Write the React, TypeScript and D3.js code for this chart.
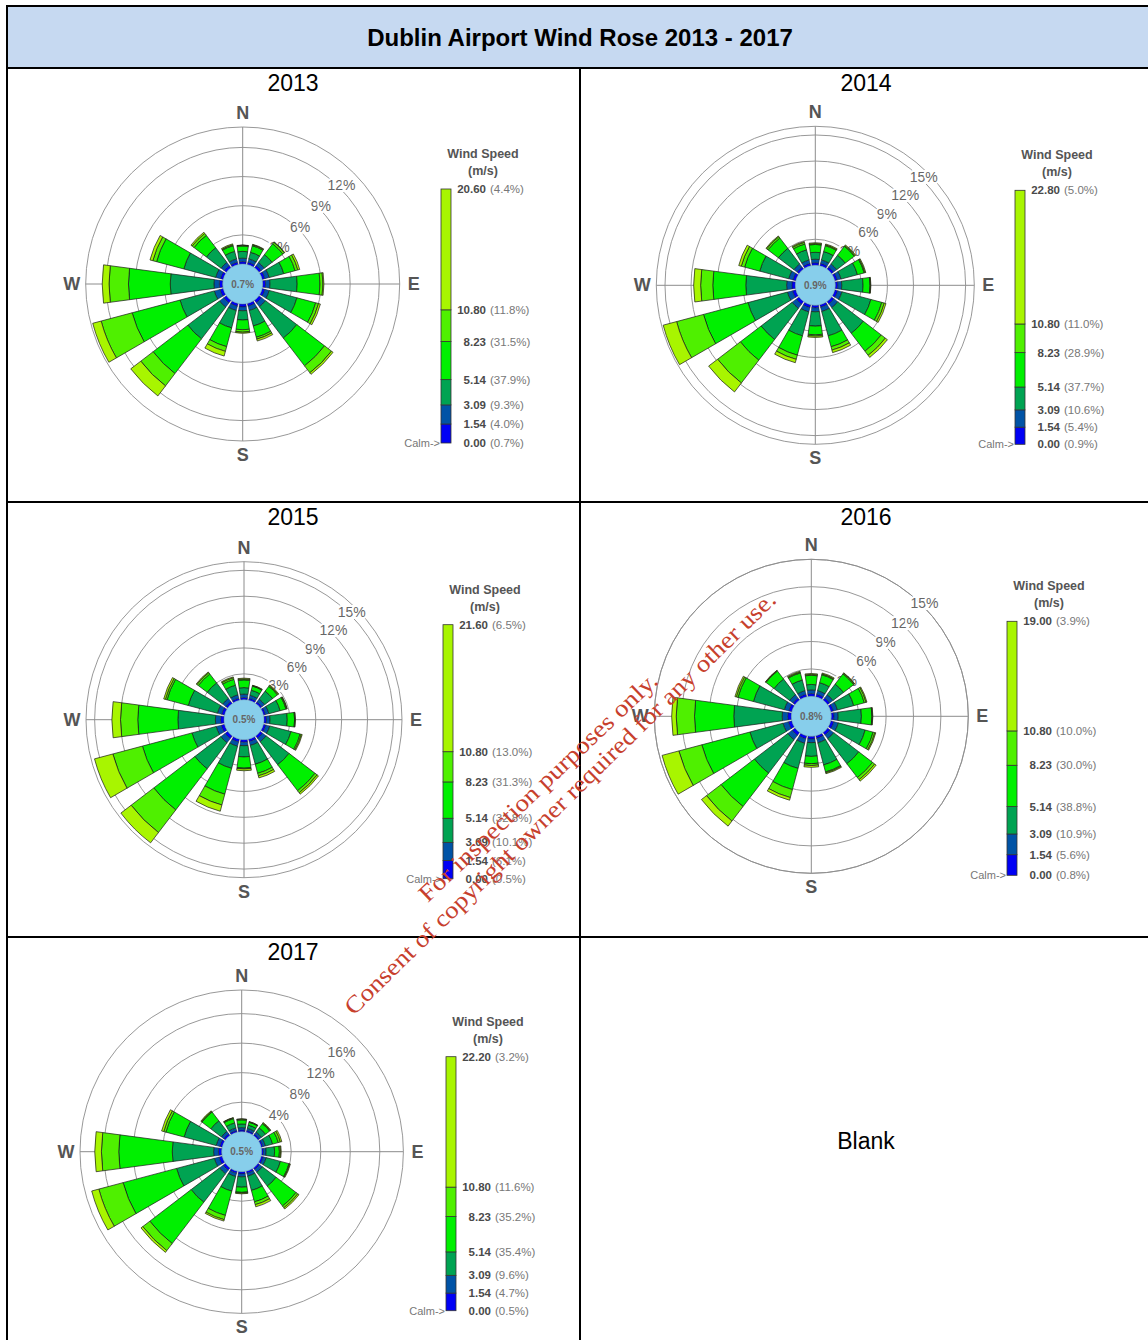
import React from 'react';
import * as d3 from 'd3';

// ---- data ----
const title = 'Dublin Airport Wind Rose 2013 - 2017';
const years = ['2013', '2014', '2015', '2016', '2017'];
const directions = ['N', 'NNE', 'NE', 'ENE', 'E', 'ESE', 'SE', 'SSE', 'S', 'SSW', 'SW', 'WSW', 'W', 'WNW', 'NW', 'NNW'];
const binKeys = ['b0', 'b1', 'b2', 'b3', 'b4', 'b5'];
const speedBreaks = [0, 1.54, 3.09, 5.14, 8.23, 10.8];

// frequency (%) per direction, per speed class [0-1.54, 1.54-3.09, 3.09-5.14, 5.14-8.23, 8.23-10.80, >10.80]
const freq2013 = [
  [0.25, 0.35, 0.7, 0.55, 0.08, 0.02], [0.25, 0.35, 0.7, 0.7, 0.1, 0.05], [0.3, 0.4, 1.0, 1.4, 0.2, 0.05], [0.3, 0.45, 1.55, 1.2, 0.3, 0.2],
  [0.3, 0.45, 2.8, 2.35, 0.3, 0.1], [0.3, 0.45, 2.95, 2.0, 0.3, 0.2], [0.35, 0.5, 4.05, 3.6, 0.9, 0.2], [0.3, 0.45, 1.65, 1.2, 0.2, 0.2],
  [0.3, 0.4, 0.95, 1.0, 0.25, 0.1], [0.3, 0.45, 1.85, 2.0, 0.5, 0.5], [0.35, 0.55, 4.1, 4.5, 1.6, 1.3], [0.35, 0.6, 3.65, 5.1, 3.3, 0.9],
  [0.35, 0.55, 4.5, 4.3, 2.0, 0.7], [0.3, 0.5, 3.4, 2.9, 0.4, 0.3], [0.3, 0.4, 1.9, 1.6, 0.25, 0.15], [0.25, 0.35, 0.8, 0.6, 0.1, 0.1],
];
const freq2014 = [
  [0.3, 0.4, 0.8, 0.9, 0.1, 0.1], [0.3, 0.4, 1.0, 0.7, 0.1, 0.1], [0.3, 0.45, 1.25, 1.3, 0.1, 0.1], [0.3, 0.45, 1.95, 0.8, 0.1, 0.1],
  [0.3, 0.45, 2.45, 0.8, 0.05, 0.05], [0.35, 0.5, 3.45, 1.3, 0.3, 0.2], [0.35, 0.55, 3.7, 2.6, 0.6, 0.3], [0.3, 0.5, 2.9, 1.3, 0.4, 0.3],
  [0.3, 0.45, 1.65, 1.0, 0.15, 0.15], [0.35, 0.5, 2.85, 2.3, 0.5, 0.4], [0.4, 0.6, 4.5, 3.0, 3.3, 1.3], [0.4, 0.6, 4.7, 5.3, 3.2, 1.6],
  [0.4, 0.6, 4.7, 3.8, 1.4, 0.8], [0.35, 0.5, 3.45, 1.8, 0.4, 0.3], [0.3, 0.45, 2.25, 1.5, 0.2, 0.1], [0.3, 0.4, 1.2, 0.7, 0.2, 0.1],
];
const freq2015 = [
  [0.25, 0.4, 0.75, 0.9, 0.1, 0.1], [0.25, 0.35, 0.6, 0.5, 0.05, 0.05], [0.25, 0.4, 1.15, 0.7, 0.1, 0.1], [0.25, 0.4, 1.35, 0.7, 0.1, 0.05],
  [0.3, 0.4, 2.0, 0.85, 0.05, 0.05], [0.3, 0.45, 2.55, 1.1, 0.15, 0.1], [0.35, 0.5, 3.35, 3.8, 0.3, 0.2], [0.3, 0.45, 2.25, 1.1, 0.3, 0.25],
  [0.3, 0.4, 1.3, 1.3, 0.1, 0.2], [0.35, 0.5, 2.65, 3.1, 1.3, 0.75], [0.4, 0.6, 3.8, 6.0, 3.3, 1.5], [0.4, 0.6, 2.9, 5.95, 3.55, 2.2],
  [0.4, 0.6, 4.35, 4.65, 2.0, 1.0], [0.35, 0.5, 3.5, 2.55, 0.2, 0.2], [0.3, 0.45, 2.25, 1.3, 0.2, 0.1], [0.25, 0.4, 1.15, 0.7, 0.2, 0.1],
];
const freq2016 = [
  [0.3, 0.4, 0.6, 1.0, 0.1, 0.1], [0.3, 0.4, 0.9, 0.9, 0.1, 0.1], [0.3, 0.45, 1.45, 1.4, 0.1, 0.05], [0.3, 0.45, 1.85, 1.2, 0.2, 0.1],
  [0.3, 0.45, 2.55, 1.15, 0.05, 0.05], [0.35, 0.5, 3.05, 0.9, 0.2, 0.1], [0.35, 0.5, 3.45, 1.9, 0.3, 0.2], [0.3, 0.5, 2.5, 0.8, 0.1, 0.1],
  [0.3, 0.4, 1.5, 0.8, 0.2, 0.2], [0.35, 0.5, 2.85, 2.4, 0.9, 0.3], [0.4, 0.6, 4.6, 4.6, 2.0, 0.7], [0.4, 0.6, 3.75, 5.45, 2.6, 1.9],
  [0.4, 0.6, 5.3, 4.3, 2.0, 0.5], [0.35, 0.5, 3.5, 1.75, 0.2, 0.15], [0.3, 0.45, 2.15, 1.1, 0.05, 0.05], [0.3, 0.4, 1.2, 0.8, 0.1, 0.1],
];
const freq2017 = [
  [0.25, 0.3, 0.5, 0.55, 0.1, 0.05], [0.25, 0.3, 0.45, 0.4, 0.05, 0.05], [0.25, 0.35, 0.7, 0.7, 0.1, 0.1], [0.25, 0.35, 1.0, 0.8, 0.3, 0.2],
  [0.25, 0.35, 1.15, 0.65, 0.15, 0.1], [0.3, 0.4, 2.0, 1.2, 0.1, 0.1], [0.3, 0.45, 2.35, 3.4, 0.3, 0.2], [0.3, 0.4, 2.0, 1.6, 0.4, 0.3],
  [0.3, 0.4, 1.4, 0.7, 0.1, 0.1], [0.3, 0.45, 2.05, 3.4, 0.6, 0.2], [0.4, 0.6, 4.85, 7.05, 1.2, 0.3], [0.45, 0.65, 5.3, 7.5, 3.4, 1.0],
  [0.45, 0.65, 5.6, 7.25, 2.35, 0.9], [0.35, 0.5, 4.5, 2.55, 0.3, 0.3], [0.3, 0.4, 1.8, 1.5, 0.1, 0.1], [0.25, 0.35, 0.7, 0.6, 0.1, 0.05],
];
const freqByYear = [freq2013, freq2014, freq2015, freq2016, freq2017];

const calmPct = [0.7, 0.9, 0.5, 0.8, 0.5];
const axisMax = [14.1, 16, 16, 15, 19.2];
const ringTicks = [[3, 6, 9, 12], [3, 6, 9, 12, 15], [3, 6, 9, 12, 15], [3, 6, 9, 12, 15], [4, 8, 12, 16]];
const maxSpeed = [20.6, 22.8, 21.6, 19.0, 22.2];
// legend percentages, bottom (calm) to top
const legendPct = [
  [0.7, 4.0, 9.3, 37.9, 31.5, 11.8, 4.4],
  [0.9, 5.4, 10.6, 37.7, 28.9, 11.0, 5.0],
  [0.5, 6.1, 10.1, 32.8, 31.3, 13.0, 6.5],
  [0.8, 5.6, 10.9, 38.8, 30.0, 10.0, 3.9],
  [0.5, 4.7, 9.6, 35.4, 35.2, 11.6, 3.2],
];

// ---- styles / layout ----
const binColors = ['#0000f5', '#0053a6', '#00a352', '#00f000', '#4ff000', '#a8f500'];
const FONT = 'Liberation Sans, Arial, Helvetica, sans-serif';
const panels = [
  { cx: 242.7, cy: 284, R: 157, legendX: 441, label: [293, 83] },
  { cx: 815.3, cy: 285.3, R: 159, legendX: 1015, label: [866, 83] },
  { cx: 244, cy: 719.7, R: 158, legendX: 443, label: [293, 517] },
  { cx: 811.3, cy: 716.3, R: 157, legendX: 1007, label: [866, 517] },
  { cx: 241.7, cy: 1151.7, R: 161.7, legendX: 446, label: [293, 952] },
];
const R0 = 20;

function barPath(cx: number, cy: number, phi: number, r1: number, r2: number) {
  const th = (7.6 * Math.PI) / 180;
  const half = (r: number) => th + Math.atan(0.6 / r);
  const pt = (r: number, a: number) => `${cx + r * Math.sin(a)},${cy - r * Math.cos(a)}`;
  const h1 = half(r1);
  const h2 = half(r2);
  return `M${pt(r1, phi - h1)}L${pt(r2, phi - h2)}A${r2},${r2} 0 0 1 ${pt(r2, phi + h2)}L${pt(r1, phi + h1)}A${r1},${r1} 0 0 0 ${pt(r1, phi - h1)}Z`;
}

const Rose = ({ i }: { i: number }) => {
  const p = panels[i];
  const r = d3.scaleLinear().domain([0, axisMax[i]]).range([R0, p.R]);
  const rows = freqByYear[i].map((v, k) => {
    const o: any = { dir: directions[k] };
    binKeys.forEach((b, j) => (o[b] = v[j]));
    return o;
  });
  const series = d3.stack().keys(binKeys)(rows);
  const angle = d3.scalePoint().domain(directions).range([0, (2 * Math.PI * 15) / 16]);
  const la = Math.PI / 4;
  const { cx, cy, R } = p;

  // legend
  const lx = p.legendX;
  const ly = d3.scaleLinear().domain([0, maxSpeed[i]]).range([cy + 159, cy - 95]);
  const edges = [...speedBreaks, maxSpeed[i]];
  const grey = '#666';

  return (
    <g>
      {ringTicks[i].map(t => (
        <circle key={t} cx={cx} cy={cy} r={r(t)} fill="none" stroke="#8c8c8c" strokeWidth={0.9} />
      ))}
      <circle cx={cx} cy={cy} r={R} fill="none" stroke="#8c8c8c" strokeWidth={0.9} />
      <line x1={cx} x2={cx} y1={cy - R} y2={cy + R} stroke="#8c8c8c" />
      <line x1={cx - R} x2={cx + R} y1={cy} y2={cy} stroke="#8c8c8c" />
      {ringTicks[i].map(t => (
        <text key={t} x={cx + (r(t) + 3) * Math.sin(la)} y={cy - (r(t) + 3) * Math.cos(la)} textAnchor="middle" dominantBaseline="central"
          fontFamily={FONT} fontSize={14} fill={grey} stroke="#fff" strokeWidth={4} style={{ paintOrder: 'stroke' }}>{t}%</text>
      ))}
      {series.map((s, j) => (
        <g key={j}>
          {s.map((d: any) => (
            <path key={d.data.dir} d={barPath(cx, cy, angle(d.data.dir)!, r(d[0]), r(d[1]))}
              fill={binColors[j]} stroke="#1a1a1a" strokeWidth={j < 2 ? 0.45 : 0.7} strokeLinejoin="round" />
          ))}
        </g>
      ))}
      <circle cx={cx} cy={cy} r={R0} fill="#87ceeb" stroke="#5a8ab8" strokeWidth={0.5} />
      <text x={cx} y={cy} textAnchor="middle" dominantBaseline="central" fontFamily={FONT} fontSize={10} fontWeight="bold" fill="#666">{calmPct[i].toFixed(1)}%</text>
      {[['N', 0, -1], ['E', 1, 0], ['S', 0, 1], ['W', -1, 0]].map(([t, dx, dy]: any) => (
        <text key={t} x={cx + dx * (R + 14)} y={cy + dy * (R + 14)} textAnchor="middle" dominantBaseline="central"
          fontFamily={FONT} fontSize={18} fontWeight="bold" fill="#555">{t}</text>
      ))}
      {/* year label */}
      <text x={p.label[0]} y={p.label[1]} textAnchor="middle" dominantBaseline="central" fontFamily={FONT} fontSize={23} fill="#000">{years[i]}</text>
      {/* legend */}
      <text x={lx + 42} y={cy - 126} textAnchor="middle" fontFamily={FONT} fontSize={12.5} fontWeight="bold" fill="#555">Wind Speed</text>
      <text x={lx + 42} y={cy - 109} textAnchor="middle" fontFamily={FONT} fontSize={12.5} fontWeight="bold" fill="#555">(m/s)</text>
      {edges.slice(0, -1).map((e, j) => (
        <rect key={j} x={lx} width={10} y={ly(edges[j + 1])} height={ly(e) - ly(edges[j + 1])} fill={binColors[j]} stroke="#333" strokeWidth={0.8} />
      ))}
      {edges.map((e, j) => (
        <g key={j}>
          <text x={lx + 45} y={ly(e)} textAnchor="end" dominantBaseline="central" fontFamily={FONT} fontSize={11.5} fontWeight="bold" fill="#4a4a4a">{e.toFixed(2)}</text>
          <text x={lx + 49} y={ly(e)} dominantBaseline="central" fontFamily={FONT} fontSize={11.5} fill="#777">({legendPct[i][j].toFixed(1)}%)</text>
        </g>
      ))}
      <text x={lx - 1} y={cy + 159} textAnchor="end" dominantBaseline="central" fontFamily={FONT} fontSize={11} fill="#777">Calm-&gt;</text>
    </g>
  );
};

export default function App() {
  return (
    <svg width={1148} height={1340} style={{ position: 'absolute', left: 0, top: 0, background: '#fff' }}>
      <rect x={0} y={0} width={1148} height={1340} fill="#fff" />
      <rect x={7} y={6} width={1150} height={62} fill="#c6d9f1" />
      <text x={580} y={37} textAnchor="middle" dominantBaseline="central" fontFamily={FONT} fontSize={24} fontWeight="bold" fill="#000">{title}</text>
      {panels.map((_, i) => <Rose key={i} i={i} />)}
      <text x={866} y={1141} textAnchor="middle" dominantBaseline="central" fontFamily={FONT} fontSize={23} fill="#000">Blank</text>
      {/* table grid */}
      <g stroke="#000" strokeWidth={2}>
        <line x1={7} x2={1160} y1={6} y2={6} />
        <line x1={7} x2={7} y1={5} y2={1345} />
        <line x1={7} x2={1160} y1={68} y2={68} />
        <line x1={7} x2={1160} y1={502} y2={502} />
        <line x1={7} x2={1160} y1={937} y2={937} />
        <line x1={580} x2={580} y1={68} y2={1345} />
      </g>
      {/* watermark */}
      <g fill="#c7402d" fontFamily="Liberation Serif, Times New Roman, serif" fontSize={24}>
        <text x={538} y={787} textAnchor="middle" dominantBaseline="central" transform="rotate(-43.6 538 787)" textLength={320} lengthAdjust="spacingAndGlyphs">For inspection purposes only.</text>
        <text x={560} y={803} textAnchor="middle" dominantBaseline="central" transform="rotate(-44.4 560 803)" textLength={593} lengthAdjust="spacingAndGlyphs">Consent of copyright owner required for any other use.</text>
      </g>
    </svg>
  );
}
